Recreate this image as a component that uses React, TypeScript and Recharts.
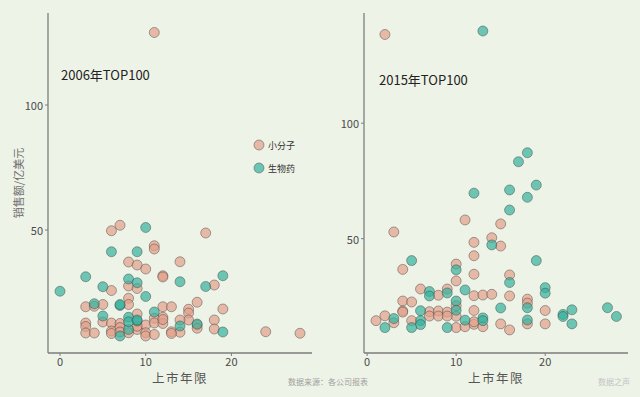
import React from 'react';
import { ScatterChart, Scatter, XAxis, YAxis } from 'recharts';

const seriesNames = ['小分子', '生物药'];
const panelTitles = ['2006年TOP100', '2015年TOP100'];
const xTicks = [0, 10, 20];
const yTicks = [50, 100];
const xTitle = '上市年限';
const yTitle = '销售额/亿美元';
const sourceNote = '数据来源：各公司报表';
const brandNote = '数据之声';

const small2006: [number, number][] = [
  [11, 129], [6, 49.7], [7, 51.9], [17, 48.8], [11, 43.7], [11, 42.4], [8, 37.2], [9, 36], [10, 34.4],
  [14, 37.3], [12, 31.7], [12, 31.2], [6, 25.8], [8, 27.6], [9, 26.6], [18, 28], [3, 19.3], [4, 19.5],
  [5, 20.2], [8, 22.7], [8, 20.2], [12, 19.3], [13, 19.3], [16, 21.1], [15, 18.3], [15, 16.8], [19, 18.4],
  [9, 16.4], [12, 15.1], [11, 14.7], [18, 14], [15, 14], [14, 14], [3, 12.8], [3, 11.4], [5, 13.2],
  [6, 12.8], [7, 12.6], [7, 11], [10, 12], [11, 12.8], [12, 12.6], [16, 12], [16, 10.7], [18, 10.4],
  [3, 8.8], [4, 8.8], [6, 9.6], [6, 8.6], [7, 9.2], [8, 8.9], [9, 10.2], [10, 8.9], [10, 7.6], [11, 8.2],
  [13, 9.3], [14, 9.1], [24, 9.3], [28, 8.7], [9, 11.5], [12, 14.2], [13, 8.6],
];
const bio2006: [number, number][] = [
  [0, 25.5], [3, 31.3], [5, 27.3], [6, 41.3], [9, 41.3], [10, 51], [8, 30.4], [9, 28.9], [10, 23.4],
  [14, 29.3], [17, 27.4], [19, 31.7], [4, 20.5], [7, 19.8], [7, 20.2], [5, 15.6], [8, 15.1], [9, 13.6],
  [11, 17.2], [14, 11.6], [16, 12.4], [19, 9.2], [7, 7.6], [8, 10.2], [8, 13.3], [9, 14],
];
const small2015: [number, number][] = [
  [2, 138.4], [11, 58.1], [15, 56.4], [3, 52.9], [14, 50.4], [15, 46.8], [12, 48.4], [12, 42.6], [10, 39],
  [4, 36.7], [12, 34.6], [16, 34.3], [10, 31.7], [6, 28.2], [9, 28.2], [8, 25.5], [12, 25.3], [13, 25.6],
  [14, 25.9], [16, 25.2], [4, 23], [5, 22.6], [10, 21], [18, 23.8], [18, 22.1], [20, 18.9], [20, 13.1],
  [15, 13.1], [16, 10.5], [18, 13.1], [4, 18.7], [4, 18.2], [7, 18.4], [8, 18.7], [9, 18.2], [10, 16.4],
  [7, 16.5], [8, 16.5], [9, 16.5], [12, 18.9], [1, 14.5], [2, 16.6], [3, 13.6], [5, 14.5], [10, 11.5],
  [11, 11.9], [12, 12.9], [12, 14], [13, 11.9],
];
const bio2015: [number, number][] = [
  [13, 139.9], [18, 87.2], [17, 83.3], [19, 73.2], [12, 69.7], [16, 71.1], [18, 67.9], [16, 62.4],
  [14, 47.3], [5, 40.5], [19, 40.5], [10, 36.5], [16, 31], [20, 28.8], [20, 26.4], [11, 27.8], [7, 27.1],
  [7, 25.2], [9, 26.5], [10, 23], [18, 20.1], [15, 20], [27, 20.1], [28, 16.3], [23, 19.2], [22, 17.2],
  [22, 16.3], [23, 13.1], [18, 14.8], [6, 18.8], [10, 19], [3, 15.4], [2, 11.5], [6, 14.5], [6, 12.8],
  [5, 11.5], [9, 11.5], [11, 14.7], [13, 15.7], [13, 14.5],
];

const toPoints = (arr: [number, number][]) => arr.map(([x, y]) => ({ x, y }));

const BG = '#eef3e7';
const PINK = '#e3a08a';
const TEAL = '#34b09d';
const AXIS = '#7d7d7d';
const TICK = '#4a4a4a';
const FONT = '"Noto Sans CJK SC", "Noto Sans", sans-serif';

const makeDot = (color: string) => (props: any) => (
  <circle
    cx={props.cx}
    cy={props.cy}
    r={5}
    fill={color}
    fillOpacity={0.7}
    stroke="#3a3a3a"
    strokeOpacity={0.55}
    strokeWidth={0.8}
  />
);

const XTick = (props: any) => (
  <text x={props.x} y={props.y} dy={8} textAnchor="middle" fontSize={11} fill={TICK} fontFamily={FONT}>
    {props.payload?.value}
  </text>
);

const YTick = (props: any) => (
  <text x={props.x} y={props.y} textAnchor="end" dominantBaseline="central" fontSize={11} fill={TICK} fontFamily={FONT}>
    {props.payload?.value}
  </text>
);

const XTitle = (props: any) => {
  const vb = props.viewBox || { x: 0, y: 0, width: 0, height: 0 };
  return (
    <text x={vb.x + vb.width / 2} y={vb.y + 24} textAnchor="middle" dominantBaseline="central"
      fontSize={12.5} fill="#555" letterSpacing={1.5} fontFamily={FONT}>
      {xTitle}
    </text>
  );
};

const YTitle = (props: any) => {
  const vb = props.viewBox || { x: 0, y: 0, width: 0, height: 0 };
  const cx = 18;
  const cy = vb.y + vb.height / 2;
  return (
    <text x={cx} y={cy} textAnchor="middle" dominantBaseline="central" transform={`rotate(-90 ${cx} ${cy})`}
      fontSize={11} fill="#707070" fontFamily={FONT}>
      {yTitle}
    </text>
  );
};

type PanelProps = {
  small: [number, number][];
  bio: [number, number][];
  xDomain: [number, number];
  yDomain: [number, number];
  yAxisWidth: number;
  marginRight: number;
  showYTitle: boolean;
};

function Panel({ small, bio, xDomain, yDomain, yAxisWidth, marginRight, showYTitle }: PanelProps) {
  return (
    <ScatterChart width={320} height={397} margin={{ top: 13, right: marginRight, bottom: 14, left: 8 }}>
      <XAxis
        type="number"
        dataKey="x"
        domain={xDomain}
        ticks={xTicks}
        allowDataOverflow
        height={30}
        tickSize={3}
        tickMargin={2}
        axisLine={{ stroke: AXIS, strokeWidth: 1.3 }}
        tickLine={{ stroke: AXIS }}
        tick={<XTick />}
        label={{ content: XTitle } as any}
      />
      <YAxis
        type="number"
        dataKey="y"
        domain={yDomain}
        ticks={yTicks}
        allowDataOverflow
        width={yAxisWidth}
        tickSize={3}
        tickMargin={2}
        axisLine={{ stroke: AXIS, strokeWidth: 1.3 }}
        tickLine={{ stroke: AXIS }}
        tick={<YTick />}
        label={showYTitle ? ({ content: YTitle } as any) : undefined}
      />
      <Scatter name={seriesNames[0]} data={toPoints(small)} fill={PINK} shape={makeDot(PINK)} isAnimationActive={false} />
      <Scatter name={seriesNames[1]} data={toPoints(bio)} fill={TEAL} shape={makeDot(TEAL)} isAnimationActive={false} />
    </ScatterChart>
  );
}

export default function App() {
  return (
    <div style={{ position: 'absolute', left: 0, top: 0, width: 640, height: 397, background: BG, overflow: 'hidden', fontFamily: FONT }}>
      <div style={{ position: 'absolute', left: 0, top: 0 }}>
        <Panel small={small2006} bio={bio2006} xDomain={[-1.4, 29.4]} yDomain={[0.8, 136.8]} yAxisWidth={40} marginRight={8} showYTitle />
      </div>
      <div style={{ position: 'absolute', left: 320, top: 0 }}>
        <Panel small={small2015} bio={bio2015} xDomain={[-0.35, 29.3]} yDomain={[0.5, 147.7]} yAxisWidth={36} marginRight={12} showYTitle={false} />
      </div>
      <svg width={640} height={397} style={{ position: 'absolute', left: 0, top: 0, pointerEvents: 'none' }}>
        <text x={61} y={74} dominantBaseline="central" fontSize={13} fill="#222" fontFamily={FONT}>{panelTitles[0]}</text>
        <text x={379} y={79} dominantBaseline="central" fontSize={13} fill="#222" fontFamily={FONT}>{panelTitles[1]}</text>
        <circle cx={259} cy={145} r={5} fill={PINK} fillOpacity={0.7} stroke="#3a3a3a" strokeOpacity={0.55} strokeWidth={0.8} />
        <text x={268} y={145} dominantBaseline="central" fontSize={9} fill="#333" fontFamily={FONT}>{seriesNames[0]}</text>
        <circle cx={259} cy={168} r={5} fill={TEAL} fillOpacity={0.7} stroke="#3a3a3a" strokeOpacity={0.55} strokeWidth={0.8} />
        <text x={268} y={168} dominantBaseline="central" fontSize={9} fill="#333" fontFamily={FONT}>{seriesNames[1]}</text>
        <text x={288} y={381} dominantBaseline="central" fontSize={8} fill="#a0a0a0" fontFamily={FONT}>{sourceNote}</text>
        <text x={598} y={381} dominantBaseline="central" fontSize={8} fill="#c4c4c4" fontFamily={FONT}>{brandNote}</text>
      </svg>
    </div>
  );
}
